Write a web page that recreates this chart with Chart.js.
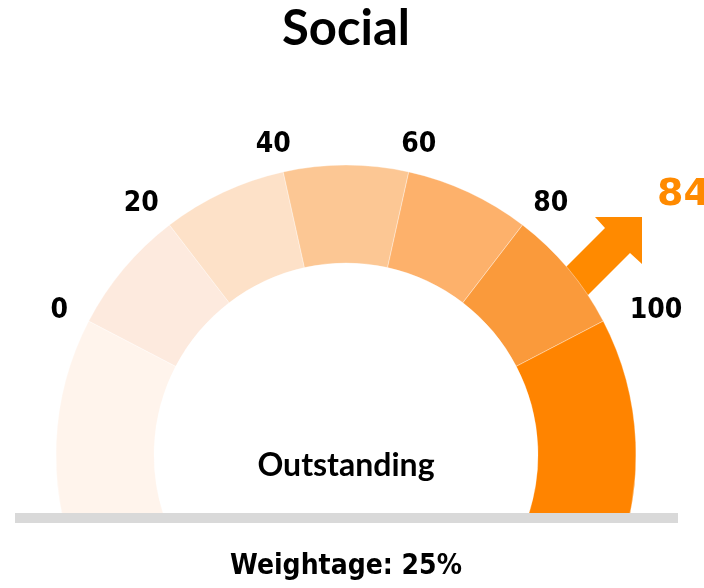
<!DOCTYPE html>
<html>
<head>
<meta charset="utf-8">
<title>Social</title>
<script src="https://cdn.jsdelivr.net/npm/chart.js@4.4.1/dist/chart.umd.min.js"></script>
<style>
  html, body { margin: 0; padding: 0; background: #ffffff; }
  canvas { display: block; }
</style>
</head>
<body>
<canvas id="gauge" width="704" height="588"></canvas>
<script>
// Gauge bands: the outer two run past the 0..100 scale and disappear under the base bar
const bandLabels = ['Below 0', '0–20', '20–40', '40–60', '60–80', '80–100', 'Above 100'];
const bandSizes = [40, 20, 20, 20, 20, 20, 40];
const bandColors = ['#FFF4EC', '#FDEADE', '#FDE1C8', '#FCC794', '#FDB16B', '#FA9A3B', '#FF8400'];

// Scale ticks printed around the ring
const tickValues = [0, 20, 40, 60, 80, 100];
const tickLabels = ['0', '20', '40', '60', '80', '100'];

// Score shown on the gauge
const categoryName = 'Social';
const scoreValue = 84;
const scoreRating = 'Outstanding';
const weightagePct = 25;

const gaugeMin = -bandSizes[0];
const gaugeSpan = bandSizes.reduce((a, b) => a + b, 0);

const ORANGE = '#FF8A00';
const TICK_FONT = 'bold 28px "DejaVu Sans Condensed", "DejaVu Sans", sans-serif';

function gaugeGeometry(chart) {
  const meta = chart.getDatasetMeta(0);
  const first = meta.data[0];
  const last = meta.data[meta.data.length - 1];
  return {
    cx: first.x,
    cy: first.y,
    outer: first.outerRadius,
    inner: first.innerRadius,
    start: first.startAngle,
    end: last.endAngle
  };
}

function valueToAngle(g, v) {
  return g.start + (v - gaugeMin) / gaugeSpan * (g.end - g.start);
}

const gaugeDecor = {
  id: 'gaugeDecor',
  beforeDatasetsDraw(chart) {
    const ctx = chart.ctx;
    const g = gaugeGeometry(chart);
    // trend arrow, its tail tucked under the ring
    ctx.save();
    ctx.fillStyle = ORANGE;
    const p = (dx, dy) => [g.cx + dx, g.cy + dy];
    const pts = [
      p(296, -238),   // tip
      p(296, -191),   // lower barb
      p(284, -202),
      p(224, -142),
      p(199, -167),
      p(259, -227),
      p(249, -238)    // upper barb
    ];
    ctx.beginPath();
    ctx.moveTo(pts[0][0], pts[0][1]);
    for (let i = 1; i < pts.length; i++) ctx.lineTo(pts[i][0], pts[i][1]);
    ctx.closePath();
    ctx.fill();
    ctx.restore();

    // ring is cut flat at the base bar
    ctx.save();
    ctx.beginPath();
    ctx.rect(0, 0, chart.width, g.cy + 58);
    ctx.clip();
  },
  afterDatasetsDraw(chart) {
    const ctx = chart.ctx;
    ctx.restore();
    const g = gaugeGeometry(chart);
    ctx.save();
    ctx.fillStyle = '#D9D9D9';
    ctx.fillRect(g.cx - 331, g.cy + 58, 663, 10);
    ctx.restore();
  },
  afterDraw(chart) {
    const ctx = chart.ctx;
    const g = gaugeGeometry(chart);
    ctx.save();

    // tick labels around the ring: wider labels are pushed further out sideways
    ctx.font = TICK_FONT;
    ctx.fillStyle = '#000000';
    ctx.textAlign = 'center';
    ctx.textBaseline = 'middle';
    tickValues.forEach((v, i) => {
      const a = valueToAngle(g, v);
      const w = ctx.measureText(tickLabels[i]).width;
      const rx = g.outer + 20 + w * 0.75;
      const ry = g.outer + 33;
      ctx.fillText(tickLabels[i], g.cx + Math.cos(a) * rx, g.cy + Math.sin(a) * ry + 5);
    });

    // rating in the middle of the gauge
    ctx.font = 'bold 32px Lato, "Open Sans", sans-serif';
    ctx.textBaseline = 'alphabetic';
    ctx.fillText(scoreRating, g.cx, g.cy + 21);

    // score value beside the arrow
    ctx.font = 'bold 38px "DejaVu Sans", sans-serif';
    ctx.fillStyle = ORANGE;
    ctx.textAlign = 'left';
    ctx.fillText(String(scoreValue), g.cx + 311, g.cy - 250);

    ctx.restore();
  }
};

new Chart(document.getElementById('gauge'), {
  type: 'doughnut',
  data: {
    labels: bandLabels,
    datasets: [{
      data: bandSizes,
      backgroundColor: bandColors,
      borderColor: 'rgba(255,255,255,0.35)',
      borderWidth: 1
    }]
  },
  options: {
    responsive: false,
    animation: false,
    events: [],
    rotation: -112.5,
    circumference: 225,
    radius: 290,
    cutout: '66.2%',
    layout: { padding: { left: 0, right: 12, top: 0, bottom: 0 } },
    plugins: {
      legend: { display: false },
      tooltip: { enabled: false },
      title: {
        display: true,
        text: categoryName,
        color: '#000000',
        font: { family: 'Lato, "Open Sans", sans-serif', size: 49, weight: 'bold', lineHeight: 1.2 },
        padding: { top: 0, bottom: 121.8 }
      },
      subtitle: {
        display: true,
        position: 'bottom',
        text: 'Weightage: ' + weightagePct + '%',
        color: '#000000',
        font: { family: '"DejaVu Sans Condensed", "DejaVu Sans", sans-serif', size: 28, weight: 'bold', lineHeight: 1.2 },
        padding: { top: 0, bottom: 4 }
      }
    }
  },
  plugins: [gaugeDecor]
});
</script>
</body>
</html>
